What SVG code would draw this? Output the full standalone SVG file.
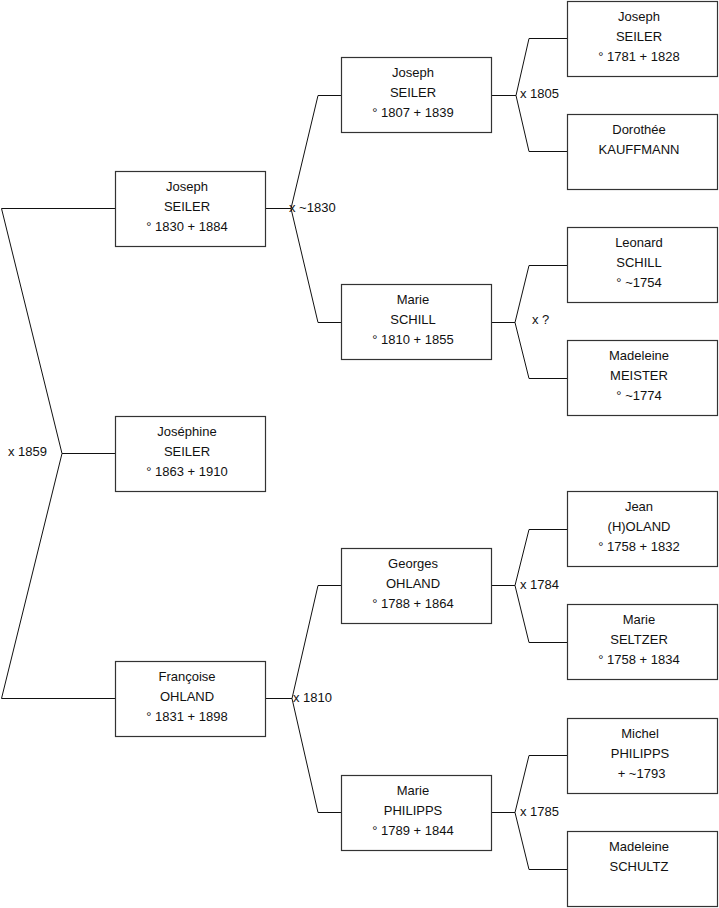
<svg xmlns="http://www.w3.org/2000/svg" width="719" height="908" viewBox="0 0 719 908">
<style>
.box{fill:#fff;stroke:#333;stroke-width:1.2}
.t{font-family:"Liberation Sans",Arial,sans-serif;font-size:13px;fill:#111;text-anchor:middle}
.l{font-family:"Liberation Sans",Arial,sans-serif;font-size:13px;fill:#111}
.c{fill:none;stroke:#111;stroke-width:1}
</style>
<rect width="719" height="908" fill="#fff"/>
<g id="connectors">
<path class="c" d="M115,208.5H1.5L62,453.5H115M62,453.5L1.5,698.5H115"/>
<path class="c" d="M265,208.5H291L318,95.5H341M291,208.5L318,322.5H341"/>
<path class="c" d="M265,698.5H292L318,585.5H341M292,698.5L318,812.5H341"/>
<path class="c" d="M491,95.5H516L529,38.5H567M516,95.5L529,151.5H567"/>
<path class="c" d="M491,322.5H515L529,265.5H567M515,322.5L529,378.5H567"/>
<path class="c" d="M491,585.5H515L529,529.5H567M515,585.5L529,642.5H567"/>
<path class="c" d="M491,812.5H515L529,755.5H567M515,812.5L529,869.5H567"/>
<text class="l" x="8" y="456">x 1859</text>
<text class="l" x="289" y="212">x ~1830</text>
<text class="l" x="293" y="702">x 1810</text>
<text class="l" x="520" y="98">x 1805</text>
<text class="l" x="532" y="324">x ?</text>
<text class="l" x="520" y="589">x 1784</text>
<text class="l" x="520" y="816">x 1785</text>
</g>
<g id="n1"><rect class="box" x="115.5" y="171.5" width="150" height="75"/><text class="t" x="187" y="191">Joseph</text><text class="t" x="187" y="211">SEILER</text><text class="t" x="187" y="231">° 1830 + 1884</text></g>
<g id="n2"><rect class="box" x="115.5" y="416.5" width="150" height="75"/><text class="t" x="187" y="436">Joséphine</text><text class="t" x="187" y="456">SEILER</text><text class="t" x="187" y="476">° 1863 + 1910</text></g>
<g id="n3"><rect class="box" x="115.5" y="661.5" width="150" height="75"/><text class="t" x="187" y="681">Françoise</text><text class="t" x="187" y="701">OHLAND</text><text class="t" x="187" y="721">° 1831 + 1898</text></g>
<g id="n4"><rect class="box" x="341.5" y="57.5" width="150" height="75"/><text class="t" x="413" y="77">Joseph</text><text class="t" x="413" y="97">SEILER</text><text class="t" x="413" y="117">° 1807 + 1839</text></g>
<g id="n5"><rect class="box" x="341.5" y="284.5" width="150" height="75"/><text class="t" x="413" y="304">Marie</text><text class="t" x="413" y="324">SCHILL</text><text class="t" x="413" y="344">° 1810 + 1855</text></g>
<g id="n6"><rect class="box" x="341.5" y="548.5" width="150" height="75"/><text class="t" x="413" y="568">Georges</text><text class="t" x="413" y="588">OHLAND</text><text class="t" x="413" y="608">° 1788 + 1864</text></g>
<g id="n7"><rect class="box" x="341.5" y="775.5" width="150" height="75"/><text class="t" x="413" y="795">Marie</text><text class="t" x="413" y="815">PHILIPPS</text><text class="t" x="413" y="835">° 1789 + 1844</text></g>
<g id="n8"><rect class="box" x="567.5" y="1.5" width="150" height="75"/><text class="t" x="639" y="21">Joseph</text><text class="t" x="639" y="41">SEILER</text><text class="t" x="639" y="61">° 1781 + 1828</text></g>
<g id="n9"><rect class="box" x="567.5" y="114.5" width="150" height="75"/><text class="t" x="639" y="134">Dorothée</text><text class="t" x="639" y="154">KAUFFMANN</text></g>
<g id="n10"><rect class="box" x="567.5" y="227.5" width="150" height="75"/><text class="t" x="639" y="247">Leonard</text><text class="t" x="639" y="267">SCHILL</text><text class="t" x="639" y="287">° ~1754</text></g>
<g id="n11"><rect class="box" x="567.5" y="340.5" width="150" height="75"/><text class="t" x="639" y="360">Madeleine</text><text class="t" x="639" y="380">MEISTER</text><text class="t" x="639" y="400">° ~1774</text></g>
<g id="n12"><rect class="box" x="567.5" y="491.5" width="150" height="75"/><text class="t" x="639" y="511">Jean</text><text class="t" x="639" y="531">(H)OLAND</text><text class="t" x="639" y="551">° 1758 + 1832</text></g>
<g id="n13"><rect class="box" x="567.5" y="604.5" width="150" height="75"/><text class="t" x="639" y="624">Marie</text><text class="t" x="639" y="644">SELTZER</text><text class="t" x="639" y="664">° 1758 + 1834</text></g>
<g id="n14"><rect class="box" x="567.5" y="718.5" width="150" height="75"/><text class="t" x="640" y="738">Michel</text><text class="t" x="640" y="758">PHILIPPS</text><text class="t" x="641.5" y="778">+ ~1793</text></g>
<g id="n15"><rect class="box" x="567.5" y="831.5" width="150" height="75"/><text class="t" x="639" y="851">Madeleine</text><text class="t" x="639" y="871">SCHULTZ</text></g>
</svg>
